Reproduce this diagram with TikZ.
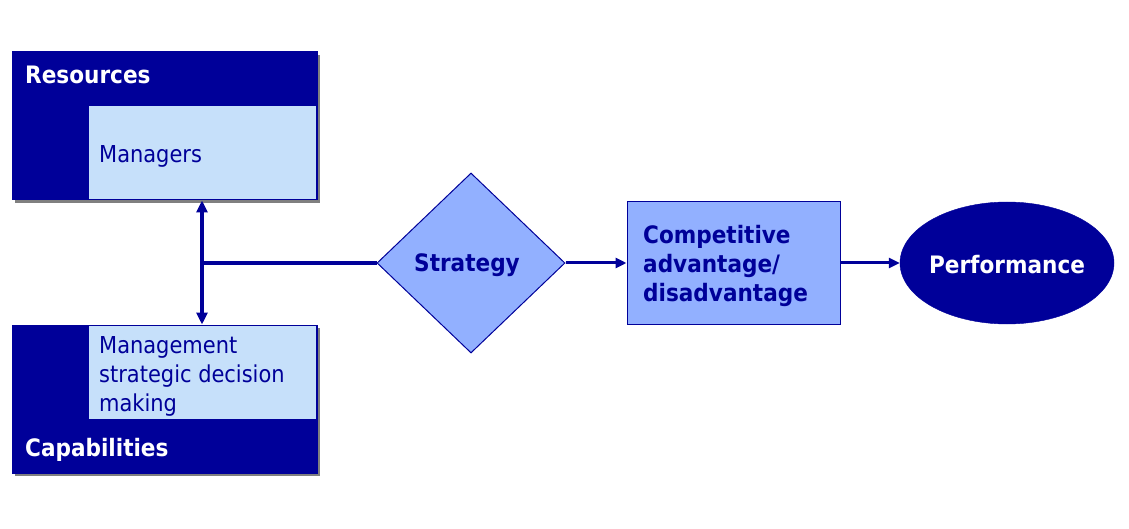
\documentclass[tikz,border=0pt]{standalone}
\usepackage{fontspec}
\setmainfont{DejaVu Sans Condensed}
\usetikzlibrary{shapes.geometric,arrows.meta,shadows}
\definecolor{navy}{RGB}{0,0,153}
\definecolor{paleblue}{RGB}{198,224,250}
\definecolor{midblue}{RGB}{146,176,255}
\tikzset{
  outerbox/.style={draw=navy, fill=navy, inner sep=0pt, line width=1pt,
    drop shadow={shadow xshift=3pt, shadow yshift=-3pt, fill=gray, opacity=1}},
  innerbox/.style={draw=navy, fill=paleblue, inner sep=0pt, line width=1pt},
  whitelabel/.style={text=white, font=\bfseries\fontsize{24}{29}\selectfont, inner sep=0pt, anchor=west},
  navylabel/.style={text=navy, font=\fontsize{23.3}{29}\selectfont, inner sep=0pt, anchor=west, align=left},
  conn/.style={draw=navy, line width=3.6pt},
  tip/.style={-{Triangle[length=11pt,width=10pt]}}
}
\begin{document}
\begin{tikzpicture}[x=1pt,y=-1pt]
\useasboundingbox (0,0) rectangle (1129,529);
% resources box
\node[outerbox, minimum width=305pt, minimum height=148pt] (res) at (164.5,126) {};
\node[innerbox, minimum width=228pt, minimum height=94pt] (mgr) at (202,153) {};
\node[whitelabel] (restext) at (25,75) {Resources};
\node[navylabel] (mgrtext) at (99,156) {Managers};
% capabilities box
\node[outerbox, minimum width=305pt, minimum height=148pt] (cap) at (164.5,399) {};
\node[innerbox, minimum width=228pt, minimum height=94pt] (msdm) at (202,372) {};
\node[whitelabel] (captext) at (25,450) {Capabilities};
\node[navylabel] (msdmtext) at (99,376) {Management\\strategic decision\\making};
% diamond
\node[diamond, draw=navy, fill=midblue, line width=1pt, inner sep=0pt,
  minimum width=188pt, minimum height=180pt] (strat) at (471,263) {};
\node[text=navy, font=\bfseries\fontsize{24}{29}\selectfont, inner sep=0pt] (strattext) at (467,265) {Strategy};
% competitive box
\node[draw=navy, fill=midblue, line width=1pt, minimum width=213pt, minimum height=123pt,
  inner sep=0pt] (comp) at (733.5,263) {};
\node[text=navy, font=\bfseries\fontsize{24}{29}\selectfont, inner sep=0pt, anchor=west, align=left]
  (comptext) at (643,266) {Competitive\\advantage/\\disadvantage};
% performance ellipse
\node[ellipse, draw=navy, fill=navy, minimum width=214pt, minimum height=122pt, inner sep=0pt] (perf) at (1007,263) {};
\node[text=white, font=\bfseries\fontsize{24}{29}\selectfont, inner sep=0pt] (perftext) at (1007,265) {Performance};
% connectors
\coordinate (junc) at (202,263);
\draw[conn, {Triangle[length=12pt,width=11pt]}-{Triangle[length=12pt,width=11pt]}] (mgr.south) -- (msdm.north);
\draw[conn, line width=3.2pt] (junc) -- (strat.west);
\draw[conn, line width=3pt, tip] (strat.east) -- (comp.west);
\draw[conn, line width=3pt, tip] (comp.east) -- (perf.west);
\end{tikzpicture}
\end{document}
